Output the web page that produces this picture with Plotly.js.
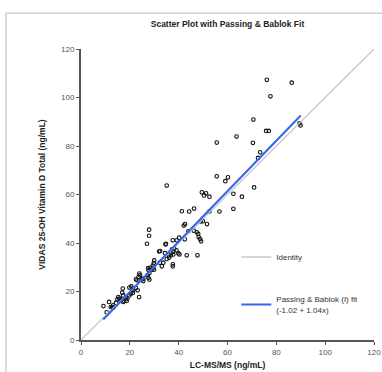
<!DOCTYPE html>
<html>
<head>
<meta charset="utf-8">
<script src="https://cdn.plot.ly/plotly-3.0.1.min.js"></script>
<style>
html,body{margin:0;padding:0;background:#fff;overflow:hidden;}
#chart{width:382px;height:372px;}
</style>
</head>
<body>
<div id="chart"></div>
<script>
// LC-MS/MS (x) vs VIDAS (y), ng/mL
const lcms = [76.1,86.3,77.6,70.6,75.8,76.9,55.6,63.7,70.4,73.4,72.5,89.5,89.9,55.6,60.2,59.1,70.9,62.4,65.9,49.5,
  51.2,50.4,52.6,35.1,41.3,44.3,46.3,52.6,49.0,49.9,51.6,42.1,42.6,44.0,46.2,47.4,48.0,48.2,48.8,49.2,
  47.7,42.5,40.2,43.3,27.9,27.9,27.0,34.8,32.0,32.4,37.6,34.4,37.3,38.2,39.1,39.9,40.3,37.6,37.8,36.8,
  35.9,36.1,35.1,33.7,33.1,37.6,37.6,32.3,30.0,29.8,29.4,29.6,28.3,27.7,28.0,27.2,29.0,29.9,27.5,23.9,
  24.2,23.6,25.5,24.9,23.1,22.5,25.5,27.6,28.0,19.8,20.6,21.2,22.5,23.2,21.4,17.1,16.9,17.3,19.8,20.4,
  21.2,23.8,18.4,19.0,15.3,15.7,14.9,16.1,16.7,17.3,17.7,18.7,14.3,13.2,11.5,12.2,12.8,13.2,9.2,10.5,
  62.4,56.7,39.2,34.6];
const vidas = [107.3,106.1,100.5,90.9,86.2,86.2,81.4,83.9,81.3,77.4,75.1,89.3,88.5,67.5,67.1,65.5,62.9,60.3,59.1,60.9,
  60.5,59.6,59.1,63.7,53.1,53.0,54.2,53.0,48.9,49.0,47.8,47.2,47.8,44.8,45.1,44.4,43.8,42.4,41.6,40.7,
  34.9,41.5,42.2,34.9,45.5,43.0,39.7,39.7,36.5,36.7,41.1,35.8,37.4,37.6,37.0,35.7,35.3,36.3,35.3,34.9,
  34.9,34.0,33.4,31.9,30.4,31.2,30.4,31.9,32.8,31.7,30.7,29.8,29.8,28.7,27.6,26.7,29.0,29.0,29.6,27.4,
  26.7,26.0,25.3,25.0,24.6,25.0,24.3,25.7,24.9,21.6,22.1,21.2,21.4,20.5,20.5,21.2,19.5,18.4,18.4,19.1,
  19.4,17.7,17.7,17.1,17.7,17.1,16.8,16.4,16.8,15.7,16.1,16.1,15.3,14.3,15.7,13.6,13.6,13.4,14.0,11.4,
  54.1,53.0,41.1,39.4];

const identityX = [0, 120];
const identityY = [0, 120];

const fitIntercept = -1.02;
const fitSlope = 1.04;
const fitX = [9.1, 90];
const fitY = fitX.map(x => fitIntercept + fitSlope * x);

const xTicks = [0, 20, 40, 60, 80, 100, 120];
const yTicks = [0, 20, 40, 60, 80, 100, 120];

const FONT = 'Liberation Sans, Arial, sans-serif';

const traces = [
  {
    x: lcms, y: vidas, type: 'scatter', mode: 'markers', name: 'Samples',
    showlegend: false,
    marker: {symbol: 'circle-open', size: 3.6, color: '#111', line: {width: 1.1, color: '#111'}}
  },
  {
    x: identityX, y: identityY, type: 'scatter', mode: 'lines', name: 'Identity',
    legendgroup: 'a',
    line: {color: '#c8c8c8', width: 1.3}
  },
  {
    x: fitX, y: fitY, type: 'scatter', mode: 'lines',
    name: 'Passing & Bablok (I) fit<br>(-1.02 + 1.04x)',
    legendgroup: 'b',
    line: {color: '#3366ee', width: 2}
  }
];

const layout = {
  width: 382, height: 372,
  margin: {l: 81, r: 8, t: 49, b: 32, pad: 0},
  paper_bgcolor: '#fff', plot_bgcolor: '#fff',
  font: {family: FONT, size: 8, color: '#444'},
  title: {
    text: '<b>Scatter Plot with Passing & Bablok Fit</b>',
    font: {family: FONT, size: 8.5, color: '#222'},
    x: 0.5, xref: 'paper', xanchor: 'center',
    y: 26, yref: 'container', yanchor: 'middle'
  },
  xaxis: {
    range: [0, 120], tickvals: xTicks, ticktext: xTicks.map(String),
    showgrid: false, zeroline: false,
    showline: true, linecolor: '#555', linewidth: 2,
    ticks: 'outside', ticklen: 3, tickcolor: '#555', tickwidth: 1,
    tickfont: {family: FONT, size: 8, color: '#555'},
    title: {text: '<b>LC-MS/MS (ng/mL)</b>', font: {family: FONT, size: 8.5, color: '#222'}, standoff: 6}
  },
  yaxis: {
    range: [0, 120], tickvals: yTicks, ticktext: yTicks.map(String),
    showgrid: false, zeroline: false,
    showline: true, linecolor: '#555', linewidth: 2,
    ticks: 'outside', ticklen: 3, tickcolor: '#555', tickwidth: 1,
    tickfont: {family: FONT, size: 8, color: '#555'},
    title: {text: '<b>VIDAS 25-OH Vitamin D Total (ng/mL)</b>', font: {family: FONT, size: 8.5, color: '#222'}, standoff: 14}
  },
  showlegend: true,
  legend: {
    x: 0.53, y: 0.335, xanchor: 'left', yanchor: 'top',
    bgcolor: 'rgba(0,0,0,0)', borderwidth: 0,
    font: {family: FONT, size: 8, color: '#333'},
    traceorder: 'grouped', tracegroupgap: 26,
    itemwidth: 30
  },
  shapes: [
    {type: 'path', xref: 'paper', yref: 'paper',
     path: 'M -0.256,-0.2 L -0.256,1.123 L 1.03,1.123',
     line: {color: '#cfcfcf', width: 1.5}, layer: 'below'}
  ]
};

Plotly.newPlot('chart', traces, layout, {displayModeBar: false, staticPlot: true});
</script>
</body>
</html>
